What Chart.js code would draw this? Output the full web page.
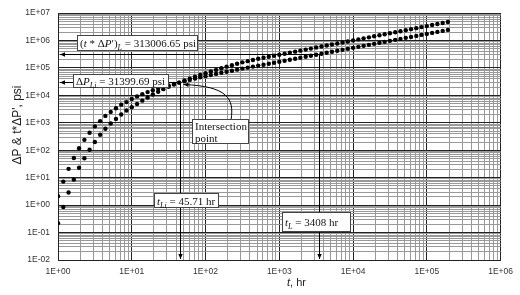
<!DOCTYPE html>
<html>
<head>
<meta charset="utf-8">
<script src="https://cdn.jsdelivr.net/npm/chart.js@4"></script>
<style>
  html, body { margin: 0; padding: 0; background: #fff; }
  #wrap { width: 520px; height: 295px; }
</style>
</head>
<body>
<div id="wrap"><canvas id="chart" width="520" height="295"></canvas></div>
<script>
// time, hr
const timeHr = [
  1, 1.18, 1.39, 1.64, 1.93, 2.28, 2.68, 3.16, 3.73, 4.39, 5.18, 6.11, 7.2, 8.48,
  10, 11.8, 13.9, 16.4, 19.3, 22.8, 26.8, 31.6, 37.3, 43.9, 51.8, 61.1, 72, 84.8,
  100, 118, 139, 164, 193, 228, 268, 316, 373, 439, 518, 611, 720, 848,
  1000, 1180, 1390, 1640, 1930, 2280, 2680, 3160, 3730, 4390, 5180, 6110, 7200, 8480,
  10000, 11800, 13900, 16400, 19300, 22800, 26800, 31600, 37300, 43900, 51800, 61100, 72000, 84800,
  100000, 118000, 139000, 164000, 193000
];
// t*dP', psi
const derivPsi = [
  2.1, 7.2, 21, 52, 118, 240, 435, 740, 1150, 1790, 2500, 3400, 4600, 5700,
  7400, 9200, 11100, 13200, 15400, 17800, 20300, 23000, 26100, 29300, 32900, 36800, 41000, 45500,
  50300, 55300, 60700, 66600, 72800, 79500, 86800, 94700, 103000, 112000, 122000, 131000, 142000, 155000,
  168000, 183000, 199000, 216000, 235000, 255000, 278000, 302000, 328000, 357000, 388000, 422000, 458000, 498000,
  542000, 589000, 640000, 696000, 757000, 823000, 895000, 973000, 1057000, 1149000, 1250000, 1359000, 1477000, 1606000,
  1746000, 1898000, 2063000, 2243000, 2439000
];
// dP, psi
const deltaPsi = [
  0.22, 0.85, 2.9, 8.5, 23, 51, 105, 200, 368, 605, 950, 1390, 2010, 2800,
  3690, 4850, 6440, 8400, 10800, 13600, 16900, 20600, 24800, 29300, 34800, 41000, 47800, 55600,
  64300, 74000, 84900, 97800, 111800, 126600, 142900, 159900, 177500, 196000, 215800, 235000, 256100, 279000,
  304000, 331300, 360900, 393300, 428400, 466900, 508700, 554300, 603900, 658000, 717100, 781500, 851300, 927700,
  1011000, 1101500, 1200000, 1307800, 1425000, 1553000, 1691800, 1843500, 2009000, 2189000, 2384800, 2598600, 2831400, 3085600,
  3361300, 3663000, 3991000, 4349000, 4738000
];

const xTickLabels = ['1E+00', '1E+01', '1E+02', '1E+03', '1E+04', '1E+05', '1E+06'];
const yTickLabels = ['1E-02', '1E-01', '1E+00', '1E+01', '1E+02', '1E+03', '1E+04', '1E+05', '1E+06', '1E+07'];

// characteristic points marked on the plot
const intersection = { t: 45.71, p: 31399.69 };
const lateLine = { t: 3408, p: 313006.65 };

const serif = '"Liberation Serif", "Times New Roman", serif';
const sans = '"Liberation Sans", Arial, sans-serif';

function logTicks(minExp, maxExp) {
  const ticks = [];
  for (let e = minExp; e < maxExp; e++) {
    for (let d = 1; d <= 9; d++) {
      ticks.push({ value: Number((d * Math.pow(10, e)).toPrecision(6)), major: d === 1 });
    }
  }
  ticks.push({ value: Math.pow(10, maxExp), major: true });
  return ticks;
}

function decadeLabel(labels, minExp) {
  return v => {
    const e = Math.log10(v);
    if (Math.abs(e - Math.round(e)) > 1e-6) return '';
    return labels[Math.round(e) - minExp];
  };
}

function runFont(r) {
  return (r.it ? 'italic ' : '') + (r.sub ? 8 : 11) + 'px ' + serif;
}

function drawRuns(ctx, runs, x, y) {
  ctx.textAlign = 'left';
  ctx.textBaseline = 'alphabetic';
  runs.forEach(r => {
    ctx.font = runFont(r);
    ctx.fillText(r.t, x, r.sub ? y + 3 : y);
    x += ctx.measureText(r.t).width;
  });
}

function labelBox(ctx, lines, left, top, w, h) {
  left = Math.round(left);
  top = Math.round(top);
  ctx.fillStyle = '#fff';
  ctx.fillRect(left, top, w, h);
  ctx.strokeStyle = '#444';
  ctx.lineWidth = 1;
  ctx.strokeRect(left + 0.5, top + 0.5, w - 1, h - 1);
  ctx.fillStyle = '#111';
  const step = 12;
  const first = top + h / 2 + 4 - (lines.length - 1) * step / 2;
  lines.forEach((runs, k) => drawRuns(ctx, runs, left + 3, first + k * step));
}

function arrowHead(ctx, x, y, ang) {
  ctx.save();
  ctx.translate(x, y);
  ctx.rotate(ang);
  ctx.beginPath();
  ctx.moveTo(0, 0);
  ctx.lineTo(-5, -2.2);
  ctx.lineTo(-5, 2.2);
  ctx.closePath();
  ctx.fill();
  ctx.restore();
}

function dropLines(ctx, a, px, py) {
  ctx.beginPath();
  ctx.moveTo(px, py);
  ctx.lineTo(a.left + 2, py);
  ctx.moveTo(px, py);
  ctx.lineTo(px, a.bottom - 1);
  ctx.stroke();
  arrowHead(ctx, a.left + 2, py, Math.PI);
  arrowHead(ctx, px, a.bottom - 1, Math.PI / 2);
}

const notes = {
  id: 'notes',
  afterDatasetsDraw(chart) {
    const { ctx, chartArea: a, scales: { x, y } } = chart;
    ctx.save();
    ctx.strokeStyle = '#000';
    ctx.fillStyle = '#000';
    ctx.lineWidth = 1;

    const ix = Math.round(x.getPixelForValue(intersection.t)) + 0.5;
    const iy = Math.round(y.getPixelForValue(intersection.p)) + 0.5;
    const lx = Math.round(x.getPixelForValue(lateLine.t)) + 0.5;
    const ly = Math.round(y.getPixelForValue(lateLine.p)) + 0.5;
    dropLines(ctx, a, ix, iy);
    dropLines(ctx, a, lx, ly);

    // callout from the "Intersection point" box
    const bl = x.getPixelForValue(65.8), bt = y.getPixelForValue(1360);
    const ex = ix + 3, ey = iy + 2;
    ctx.beginPath();
    ctx.moveTo(bl + 39, bt);
    ctx.bezierCurveTo(bl + 42, bt - 20, bl + 36, bt - 33, ex, ey);
    ctx.stroke();
    arrowHead(ctx, ex, ey, Math.atan2(ey - (bt - 33), ex - (bl + 36)));

    labelBox(ctx, [[
      { t: '(' }, { t: 't', it: true }, { t: ' * Δ' }, { t: 'P', it: true }, { t: '\u2032)' },
      { t: 'L', it: true, sub: true }, { t: ' = 313006.65 psi' }
    ]], x.getPixelForValue(1.8), y.getPixelForValue(1.6e6), 121, 16);

    labelBox(ctx, [[
      { t: 'Δ' }, { t: 'P', it: true }, { t: 'Li', it: true, sub: true }, { t: ' = 31399.69 psi' }
    ]], x.getPixelForValue(1.59), y.getPixelForValue(62400), 96, 14);

    labelBox(ctx, [[{ t: 'Intersection' }], [{ t: 'point' }]], bl, bt, 57, 25);

    labelBox(ctx, [[
      { t: 't', it: true }, { t: 'Li', it: true, sub: true }, { t: ' = 45.71 hr' }
    ]], x.getPixelForValue(19.8), y.getPixelForValue(2.88), 65, 15);

    labelBox(ctx, [[
      { t: 't', it: true }, { t: 'L', it: true, sub: true }, { t: ' = 3408 hr' }
    ]], x.getPixelForValue(1080), y.getPixelForValue(0.545), 69, 20);

    // axis titles
    ctx.fillStyle = '#222';
    ctx.textBaseline = 'middle';
    ctx.textAlign = 'left';
    ctx.font = 'italic 11px ' + sans;
    let tx = 287;
    ctx.fillText('t', tx, 283);
    tx += ctx.measureText('t').width;
    ctx.font = '11px ' + sans;
    ctx.fillText(', hr', tx, 283);

    ctx.translate(18, 125);
    ctx.rotate(-Math.PI / 2);
    ctx.textAlign = 'center';
    ctx.font = '12px ' + sans;
    ctx.fillText('ΔP & t*ΔP\', psi', 0, 0);
    ctx.restore();
  }
};

function gridColor(c) {
  return c.tick && c.tick.major ? '#222' : '#999';
}

const tickFont = { family: sans, size: 8.5 };

new Chart(document.getElementById('chart'), {
  type: 'scatter',
  data: {
    datasets: [
      {
        label: "t*ΔP'",
        data: timeHr.map((t, i) => ({ x: t, y: derivPsi[i] })),
        backgroundColor: '#000',
        borderColor: '#000',
        pointRadius: 2.2,
        pointBorderWidth: 0
      },
      {
        label: 'ΔP',
        data: timeHr.map((t, i) => ({ x: t, y: deltaPsi[i] })),
        backgroundColor: '#000',
        borderColor: '#000',
        pointRadius: 2.2,
        pointBorderWidth: 0
      }
    ]
  },
  options: {
    responsive: false,
    animation: false,
    events: [],
    layout: { padding: { left: 0, top: 11, right: 13, bottom: 0 } },
    plugins: { legend: { display: false }, tooltip: { enabled: false } },
    scales: {
      x: {
        type: 'logarithmic',
        min: 1,
        max: 1e6,
        afterBuildTicks: s => { s.ticks = logTicks(0, 6); },
        afterFit: s => { s.height = 35; },
        grid: { color: gridColor, lineWidth: 1, drawTicks: false },
        border: { color: '#222' },
        ticks: {
          autoSkip: false, maxRotation: 0, padding: 7,
          font: tickFont, color: '#333',
          callback: decadeLabel(xTickLabels, 0)
        }
      },
      y: {
        type: 'logarithmic',
        min: 0.01,
        max: 1e7,
        afterBuildTicks: s => { s.ticks = logTicks(-2, 7); },
        afterFit: s => { s.width = 58; },
        grid: { color: gridColor, lineWidth: 1, drawTicks: false },
        border: { color: '#222' },
        ticks: {
          autoSkip: false, padding: 8,
          font: tickFont, color: '#333',
          callback: decadeLabel(yTickLabels, -2)
        }
      }
    }
  },
  plugins: [notes]
});
</script>
</body>
</html>
